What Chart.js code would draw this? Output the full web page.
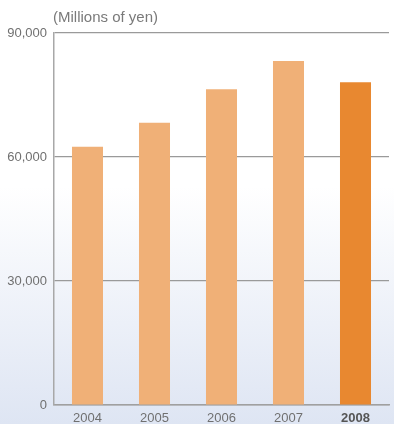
<!DOCTYPE html>
<html>
<head>
<meta charset="utf-8">
<script src="https://cdn.jsdelivr.net/npm/chart.js@4/dist/chart.umd.min.js"></script>
<style>
  html, body { margin: 0; padding: 0; }
  body {
    width: 394px; height: 424px; overflow: hidden;
    background: linear-gradient(to bottom, #ffffff 0%, #ffffff 44%, #dee5f3 100%);
  }
  #wrap { position: relative; width: 394px; height: 424px; }
</style>
</head>
<body>
<div id="wrap"><canvas id="ventas"></canvas></div>
<script>
// Net sales, millions of yen
const years = ["2004", "2005", "2006", "2007", "2008"];
const sales = [62500, 68300, 76400, 83200, 78100];
const yTicks = [0, 30000, 60000, 90000];
const unitLabel = "(Millions of yen)";

const LIGHT = '#f0b077';
const DARK = '#e88830';

// unit caption above the y axis
const unitCaption = {
  id: 'unitCaption',
  afterDraw(chart) {
    const { ctx, chartArea } = chart;
    ctx.save();
    ctx.font = '15px "Liberation Sans", Arial, sans-serif';
    ctx.fillStyle = '#7a7a7a';
    ctx.textAlign = 'left';
    ctx.textBaseline = 'alphabetic';
    ctx.fillText(unitLabel, chartArea.left - 1, chartArea.top - 11);
    ctx.restore();
  }
};

new Chart(document.getElementById('ventas').getContext('2d'), {
  type: 'bar',
  data: {
    labels: years,
    datasets: [{
      data: sales,
      backgroundColor: years.map((y, i) => i === years.length - 1 ? DARK : LIGHT),
      barPercentage: 0.463,
      categoryPercentage: 1
    }]
  },
  options: {
    responsive: true,
    maintainAspectRatio: false,
    animation: false,
    layout: { padding: { top: 33, right: 5, left: 0, bottom: 0 } },
    plugins: { legend: { display: false }, tooltip: { enabled: false } },
    scales: {
      x: {
        grid: { display: false, drawTicks: false },
        border: { color: '#a0a0a0', width: 1.5 },
        ticks: {
          padding: 6,
          font: ctx => ({ family: '"Liberation Sans", Arial, sans-serif', size: 13,
                          weight: ctx.index === years.length - 1 ? 'bold' : 'normal' }),
          color: ctx => ctx.index === years.length - 1 ? '#555555' : '#707070'
        },
        afterFit(s) { s.height = 19; }
      },
      y: {
        min: 0, max: 90000,
        afterBuildTicks(s) { s.ticks = yTicks.map(v => ({ value: v })); },
        grid: { color: '#9a9a9a', lineWidth: 1.2, drawTicks: false },
        border: { color: '#a8a8a8', width: 1.5 },
        ticks: {
          padding: 7,
          font: { family: '"Liberation Sans", Arial, sans-serif', size: 13 },
          color: '#707070',
          callback: v => v.toLocaleString('en-US')
        },
        afterFit(s) { s.width = 54; }
      }
    }
  },
  plugins: [unitCaption]
});
</script>
</body>
</html>
